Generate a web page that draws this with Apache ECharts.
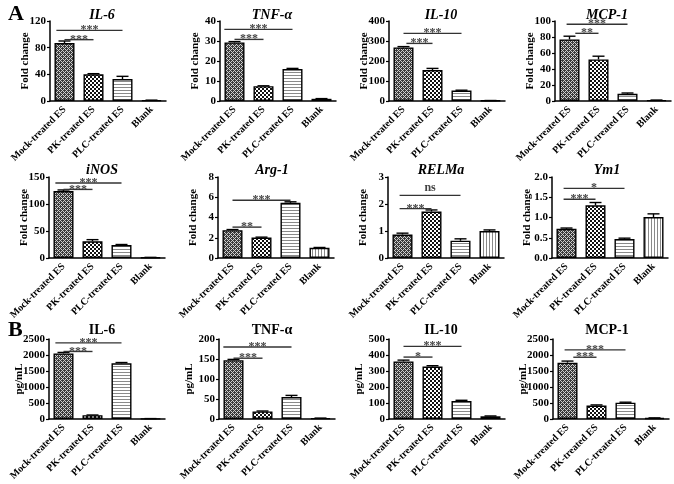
<!DOCTYPE html>
<html><head><meta charset="utf-8">
<script src="https://cdn.jsdelivr.net/npm/echarts@6/dist/echarts.min.js"></script>
<style>html,body{margin:0;padding:0;background:#fff}#c{width:674px;height:484px}</style>
</head><body><div id="c"></div>
<script>
// ---------- data ----------
const categories = ['Mock-treated ES', 'PK-treated ES', 'PLC-treated ES', 'Blank'];

const panelTitles = ['IL-6', 'TNF-α', 'IL-10', 'MCP-1', 'iNOS', 'Arg-1', 'RELMa', 'Ym1', 'IL-6', 'TNF-α', 'IL-10', 'MCP-1'];
const axisNames = ['Fold change', 'Fold change', 'Fold change', 'Fold change', 'Fold change', 'Fold change', 'Fold change', 'Fold change', 'pg/mL', 'pg/mL', 'pg/mL', 'pg/mL'];

const il6Fold = [87, 40, 33, 1];        const il6FoldErr = [3, 1, 4, 0.3];
const tnfFold = [29.3, 7.4, 16, 1.1];   const tnfFoldErr = [0.4, 0.2, 0.3, 0.1];
const il10Fold = [268, 155, 52, 2];     const il10FoldErr = [4, 8, 2, 0.5];
const mcp1Fold = [77, 52, 9, 1];        const mcp1FoldErr = [4, 4, 1, 0.2];
const inosFold = [124, 31, 24, 1];      const inosFoldErr = [2, 3, 1, 0.2];
const arg1Fold = [2.75, 2.02, 5.45, 1.0]; const arg1FoldErr = [0.06, 0.04, 0.1, 0.04];
const relmaFold = [0.87, 1.72, 0.64, 1.0]; const relmaFoldErr = [0.05, 0.06, 0.07, 0.04];
const ym1Fold = [0.72, 1.3, 0.47, 1.01]; const ym1FoldErr = [0.02, 0.07, 0.02, 0.08];
const il6Conc = [2050, 120, 1740, 10];  const il6ConcErr = [30, 5, 25, 3];
const tnfConc = [147, 19, 55, 2];       const tnfConcErr = [2, 1, 4, 0.3];
const il10Conc = [360, 328, 113, 17];   const il10ConcErr = [8, 5, 4, 2];
const mcp1Conc = [1760, 420, 510, 30];  const mcp1ConcErr = [50, 20, 15, 5];

const panelValues = [il6Fold, tnfFold, il10Fold, mcp1Fold, inosFold, arg1Fold, relmaFold, ym1Fold, il6Conc, tnfConc, il10Conc, mcp1Conc];
const panelErrors = [il6FoldErr, tnfFoldErr, il10FoldErr, mcp1FoldErr, inosFoldErr, arg1FoldErr, relmaFoldErr, ym1FoldErr, il6ConcErr, tnfConcErr, il10ConcErr, mcp1ConcErr];

// y axis max and tick interval
const axisMax = [120, 40, 400, 100, 150, 8, 3, 2, 2500, 200, 500, 2500];
const axisStep = [40, 10, 100, 20, 50, 2, 1, 0.5, 500, 50, 100, 500];

// significance brackets: [from category, to category, y value, label]
const panelBrackets = [
  [[0, 1, 92, '***'], [-0.28, 2, 106, '***']],
  [[0, 1, 30.8, '***'], [-0.35, 2, 35.8, '***']],
  [[0.1, 1, 288, '***'], [0, 2, 338, '***']],
  [[0.2, 1, 84.6, '**'], [-0.1, 2, 96, '***']],
  [[0, 1, 127, '***'], [-0.28, 2, 139, '***']],
  [[0, 1, 3.05, '**'], [0, 2, 5.7, '***']],
  [[-0.1, 1, 1.83, '***'], [-0.1, 2, 2.32, 'ns']],
  [[-0.1, 1, 1.45, '***'], [-0.1, 2, 1.72, '*']],
  [[0, 1, 2110, '***'], [-0.28, 2, 2380, '***']],
  [[0, 1, 152, '***'], [-0.35, 2, 180, '***']],
  [[0, 1, 387, '*'], [0, 2, 454, '***']],
  [[0.2, 1, 1930, '***'], [-0.1, 2, 2160, '***']]
];

// ---------- layout ----------
const rowTop = [21, 177, 339];
const rowHeight = [80, 81, 80];
const colLeft = [[50, 220, 389, 555], [49, 218, 388, 552], [49, 219, 389, 553]];
const plotWidth = 116;
const titleCenter = [97, 267, 436, 602];
const titleTop = [3, 158, 318];

const FONT = '"Liberation Serif", "Times New Roman", serif';

function pattern(kind) {
  const c = document.createElement('canvas');
  const g = c.getContext('2d');
  if (kind === 0) {
    c.width = 4; c.height = 4;
    g.fillStyle = '#3c3c3c'; g.fillRect(0, 0, 4, 4);
    g.fillStyle = '#cfcfcf';
    for (let x = 0; x < 4; x++) for (let y = 0; y < 4; y++) {
      if ((x + y) % 4 === 0 || (x - y + 4) % 4 === 0) g.fillRect(x, y, 1, 1);
    }
  } else if (kind === 1) {
    c.width = 4; c.height = 4;
    g.fillStyle = '#111'; g.fillRect(0, 0, 4, 4);
    g.fillStyle = '#fff'; g.fillRect(0, 0, 2, 2); g.fillRect(2, 2, 2, 2);
  } else if (kind === 2) {
    c.width = 4; c.height = 3;
    g.fillStyle = '#fff'; g.fillRect(0, 0, 4, 3);
    g.fillStyle = '#8a8a8a'; g.fillRect(0, 0, 4, 1);
  } else {
    c.width = 3; c.height = 4;
    g.fillStyle = '#fff'; g.fillRect(0, 0, 3, 4);
    g.fillStyle = '#8a8a8a'; g.fillRect(0, 0, 1, 4);
  }
  return { image: c, repeat: 'repeat' };
}
const fills = [pattern(0), pattern(1), pattern(2), pattern(3)];

const grid = [], xAxis = [], yAxis = [], series = [], title = [];
for (let i = 0; i < 12; i++) {
  const r = Math.floor(i / 4), col = i % 4;
  grid.push({ left: colLeft[r][col], top: rowTop[r], width: plotWidth, height: rowHeight[r], containLabel: false });
  xAxis.push({
    type: 'category', gridIndex: i, data: categories,
    axisLine: { lineStyle: { color: '#000', width: 1.5 } },
    axisTick: { alignWithLabel: true, length: 4, lineStyle: { color: '#000', width: 1.2 } },
    axisLabel: { interval: 0, rotate: 45, margin: 7, color: '#000', fontFamily: FONT, fontWeight: 'bold', fontSize: 10 }
  });
  yAxis.push({
    type: 'value', gridIndex: i, min: 0, max: axisMax[i], interval: axisStep[i],
    name: axisNames[i], nameLocation: 'middle', nameGap: r === 2 ? 24 : 19, nameMoveOverlap: false,
    nameTextStyle: { color: '#000', fontFamily: FONT, fontWeight: 'bold', fontSize: 11 },
    axisLine: { show: true, lineStyle: { color: '#000', width: 1.5 } },
    axisTick: { show: true, length: 3, lineStyle: { color: '#000', width: 1.2 } },
    splitLine: { show: false },
    axisLabel: {
      margin: 4, color: '#000', fontFamily: FONT, fontWeight: 'bold', fontSize: 11,
      formatter: axisStep[i] < 1 ? (v => v.toFixed(1)) : (v => String(v))
    }
  });
  title.push({
    text: panelTitles[i], left: titleCenter[col], top: titleTop[r], textAlign: 'center',
    textStyle: { fontFamily: FONT, fontWeight: 'bold', fontStyle: r < 2 ? 'italic' : 'normal', fontSize: 14, color: '#000' }
  });
  series.push({
    type: 'bar', xAxisIndex: i, yAxisIndex: i, barWidth: '69%',
    data: panelValues[i].map((v, k) => ({ value: v, itemStyle: { color: fills[k] } })),
    itemStyle: { borderColor: '#000', borderWidth: 1.4 },
    silent: true, animation: false
  });
  const errs = panelErrors[i];
  series.push({
    type: 'custom', xAxisIndex: i, yAxisIndex: i, silent: true, animation: false, z: 5,
    data: panelValues[i].map((v, k) => [k, v, errs[k]]),
    renderItem: function (params, api) {
      const k = api.value(0), m = api.value(1), e = api.value(2);
      const p0 = api.coord([k, m]);
      const p1 = api.coord([k, m + e]);
      const band = api.size([1, 0])[0];
      const hw = band * 0.69 * 0.3;
      return {
        type: 'group', children: [
          { type: 'line', shape: { x1: p0[0], y1: p0[1], x2: p1[0], y2: p1[1] }, style: { stroke: '#000', lineWidth: 1.4 } },
          { type: 'line', shape: { x1: p1[0] - hw, y1: p1[1], x2: p1[0] + hw, y2: p1[1] }, style: { stroke: '#000', lineWidth: 1.4 } }
        ]
      };
    }
  });
  series.push({
    type: 'custom', xAxisIndex: i, yAxisIndex: i, silent: true, animation: false, z: 6,
    data: panelBrackets[i],
    renderItem: function (params, api) {
      const f = api.value(0), t = api.value(1), y = api.value(2);
      const label = panelBrackets[i][params.dataIndex][3];
      const c = api.coord([0, y]);
      const band = api.size([1, 0])[0];
      const xa = c[0] + f * band, xb = c[0] + t * band;
      const isStar = label.indexOf('*') >= 0;
      return {
        type: 'group', children: [
          { type: 'line', shape: { x1: xa, y1: c[1], x2: xb, y2: c[1] }, style: { stroke: '#333', lineWidth: 1.4 } },
          { type: 'text', style: { text: label, x: (xa + xb) / 2, y: isStar ? c[1] + 6 : c[1] - 1, textAlign: 'center', textVerticalAlign: 'bottom',
            font: 'bold 12px ' + FONT, fill: '#444' } }
        ]
      };
    }
  });
}
title.push({ text: 'A', left: 3, top: -2, textStyle: { fontFamily: FONT, fontWeight: 'bold', fontSize: 22, color: '#000' } });
title.push({ text: 'B', left: 3, top: 314, textStyle: { fontFamily: FONT, fontWeight: 'bold', fontSize: 22, color: '#000' } });

const chart = echarts.init(document.getElementById('c'), null, { renderer: 'canvas' });
chart.setOption({ animation: false, backgroundColor: '#fff', title, grid, xAxis, yAxis, series });
</script></body></html>
